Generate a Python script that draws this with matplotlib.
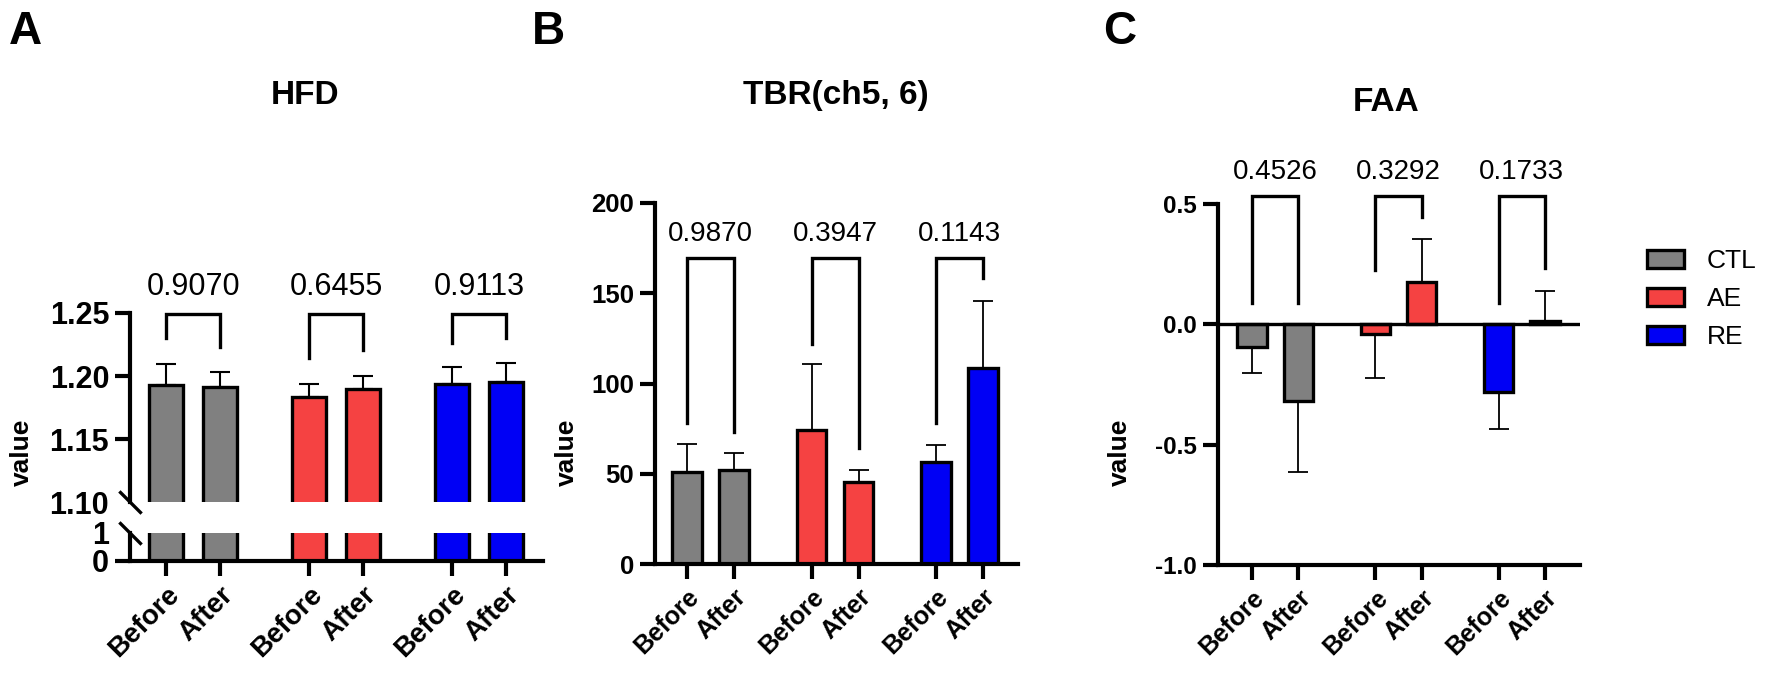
import numpy as np
import matplotlib.pyplot as plt
from matplotlib.patches import Patch

plt.rcParams['font.family'] = ['Liberation Sans', 'DejaVu Sans']

groups = ['CTL', 'AE', 'RE']
group_colors = ['#808080', '#F54242', '#0000F5']
xlabels = ['Before', 'After', 'Before', 'After', 'Before', 'After']

# HFD (broken axis)
hfd_mean = [1.193, 1.191, 1.183, 1.190, 1.194, 1.195]
hfd_err = [0.0165, 0.012, 0.0105, 0.010, 0.013, 0.015]
hfd_p = ['0.9070', '0.6455', '0.9113']
hfd_br_top = 1.249
hfd_br_left = [1.230, 1.214, 1.226]
hfd_br_right = [1.223, 1.221, 1.230]

# TBR(ch5, 6)
tbr_mean = [51, 52, 74.5, 45.5, 56.5, 108.5]
tbr_err = [15.5, 9.5, 36.3, 6.5, 9.5, 37.2]
tbr_p = ['0.9870', '0.3947', '0.1143']
tbr_br_top = 169.5
tbr_br_left = [78, 122, 78]
tbr_br_right = [73, 64, 158.5]

# FAA
faa_mean = [-0.096, -0.32, -0.04, 0.175, -0.283, 0.012]
faa_err = [0.108, 0.292, 0.185, 0.179, 0.15, 0.125]
faa_p = ['0.4526', '0.3292', '0.1733']
faa_br_top = 0.533
faa_br_left = [0.0875, 0.225, 0.0875]
faa_br_right = [0.0875, 0.446, 0.233]

xpos = np.array([0, 1, 2.65, 3.65, 5.3, 6.3])
bar_colors = [c for c in group_colors for _ in range(2)]

W, H = 1772, 683
fig = plt.figure(figsize=(W / 100, H / 100), dpi=100)


def box(x0, y0, x1, y1):
    # pixel box (origin top-left) -> figure rect
    return [x0 / W, 1 - y1 / H, (x1 - x0) / W, (y1 - y0) / H]


def draw_bars(ax, mean, err, width=0.63, elw=1.3):
    mean = np.asarray(mean)
    err = np.asarray(err)
    lo = np.where(mean < 0, err, 0)
    hi = np.where(mean >= 0, err, 0)
    ax.errorbar(xpos, mean, yerr=[lo, hi], fmt='none', ecolor='black',
                elinewidth=elw, capsize=7, capthick=elw, zorder=1)
    ax.bar(xpos, mean, width=width, color=bar_colors, edgecolor='black',
           linewidth=2.4, zorder=2)


def draw_brackets(ax, top, left, right, pvals, fs, off):
    for i in range(3):
        xl, xr = xpos[2 * i], xpos[2 * i + 1]
        ax.plot([xl, xl, xr, xr], [left[i], top, top, right[i]], color='black',
                lw=2.4, clip_on=False, solid_joinstyle='miter', zorder=4)
        ax.annotate(pvals[i], xy=((xl + xr) / 2, top), xytext=(0, off),
                    textcoords='offset points', ha='center', va='baseline',
                    fontsize=fs, annotation_clip=False)


def style(ax):
    for s in ['top', 'right']:
        ax.spines[s].set_visible(False)
    for s in ['left', 'bottom']:
        ax.spines[s].set_linewidth(3)
    ax.tick_params(width=3, length=11, pad=4)


def set_xlabels(ax, fs):
    ax.set_xticks(xpos, xlabels, rotation=45, ha='right', rotation_mode='anchor',
                  fontweight='bold', fontsize=fs)


# ---- A: HFD ----
axA = fig.add_axes(box(130, 313, 543, 502))
axA0 = fig.add_axes(box(130, 533, 543, 561))
for ax in (axA, axA0):
    draw_bars(ax, hfd_mean, hfd_err, elw=1.5)
    style(ax)
    ax.set_xlim(-0.67, 6.98)
axA.set_ylim(1.10, 1.25)
axA.spines['bottom'].set_visible(False)
axA.set_xticks([])
axA.set_yticks([1.10, 1.15, 1.20, 1.25], ['1.10', '1.15', '1.20', '1.25'],
               fontweight='bold', fontsize=22)
axA.yaxis.get_major_ticks()[0].tick1line.set_visible(False)
axA0.set_ylim(0, 1)
axA0.set_yticks([0, 1], ['0', '1'], fontweight='bold', fontsize=22)
axA0.yaxis.get_major_ticks()[1].tick1line.set_visible(False)
set_xlabels(axA0, 20)
draw_brackets(axA, hfd_br_top, hfd_br_left, hfd_br_right, hfd_p, 22, 14)
brk = dict(marker=[(-1, 1), (1, -1)], markersize=16, linestyle='none',
           color='black', mec='black', mew=2.4, clip_on=False)
axA.plot([0], [0], transform=axA.transAxes, **brk)
axA0.plot([0], [1], transform=axA0.transAxes, **brk)

# ---- B: TBR ----
axB = fig.add_axes(box(655, 203, 1018, 564))
draw_bars(axB, tbr_mean, tbr_err)
style(axB)
axB.set_xlim(-0.68, 7.04)
axB.set_ylim(0, 200)
axB.set_yticks([0, 50, 100, 150, 200], ['0', '50', '100', '150', '200'],
               fontweight='bold', fontsize=18.5)
set_xlabels(axB, 18.3)
draw_brackets(axB, tbr_br_top, tbr_br_left, tbr_br_right, tbr_p, 20, 12)

# ---- C: FAA ----
axC = fig.add_axes(box(1218, 204, 1580, 565))
draw_bars(axC, faa_mean, faa_err)
style(axC)
axC.axhline(0, color='black', lw=2.4, zorder=3)
axC.set_xlim(-0.73, 7.05)
axC.set_ylim(-1.0, 0.5)
axC.set_yticks([-1.0, -0.5, 0.0, 0.5], ['-1.0', '-0.5', '0.0', '0.5'],
               fontweight='bold', fontsize=17.5)
set_xlabels(axC, 18.3)
draw_brackets(axC, faa_br_top, faa_br_left, faa_br_right, faa_p, 20, 12)

handles = [Patch(facecolor=c, edgecolor='black', linewidth=2.4) for c in group_colors]
fig.legend(handles, groups, loc='center left', bbox_to_anchor=(1647 / W, 1 - 299 / H),
           frameon=False, fontsize=19, handlelength=1.4, handleheight=0.68,
           handletextpad=0.87, labelspacing=0.53, borderpad=0, borderaxespad=0)

# y labels, titles, panel letters
for x in (22, 567, 1120):
    fig.text(x / W, 1 - 452 / H, 'value', rotation=90, ha='center', va='center',
             fontsize=19, fontweight='bold')
for x, y, t in [(305, 104, 'HFD'), (836, 104, 'TBR(ch5, 6)'), (1386, 111, 'FAA')]:
    fig.text(x / W, 1 - y / H, t, ha='center', va='baseline', fontsize=24, fontweight='bold')
for x, t in [(9, 'A'), (532, 'B'), (1103, 'C')]:
    fig.text(x / W, 1 - 44 / H, t, ha='left', va='baseline', fontsize=33, fontweight='bold')

fig.savefig('out.png', dpi=100)
